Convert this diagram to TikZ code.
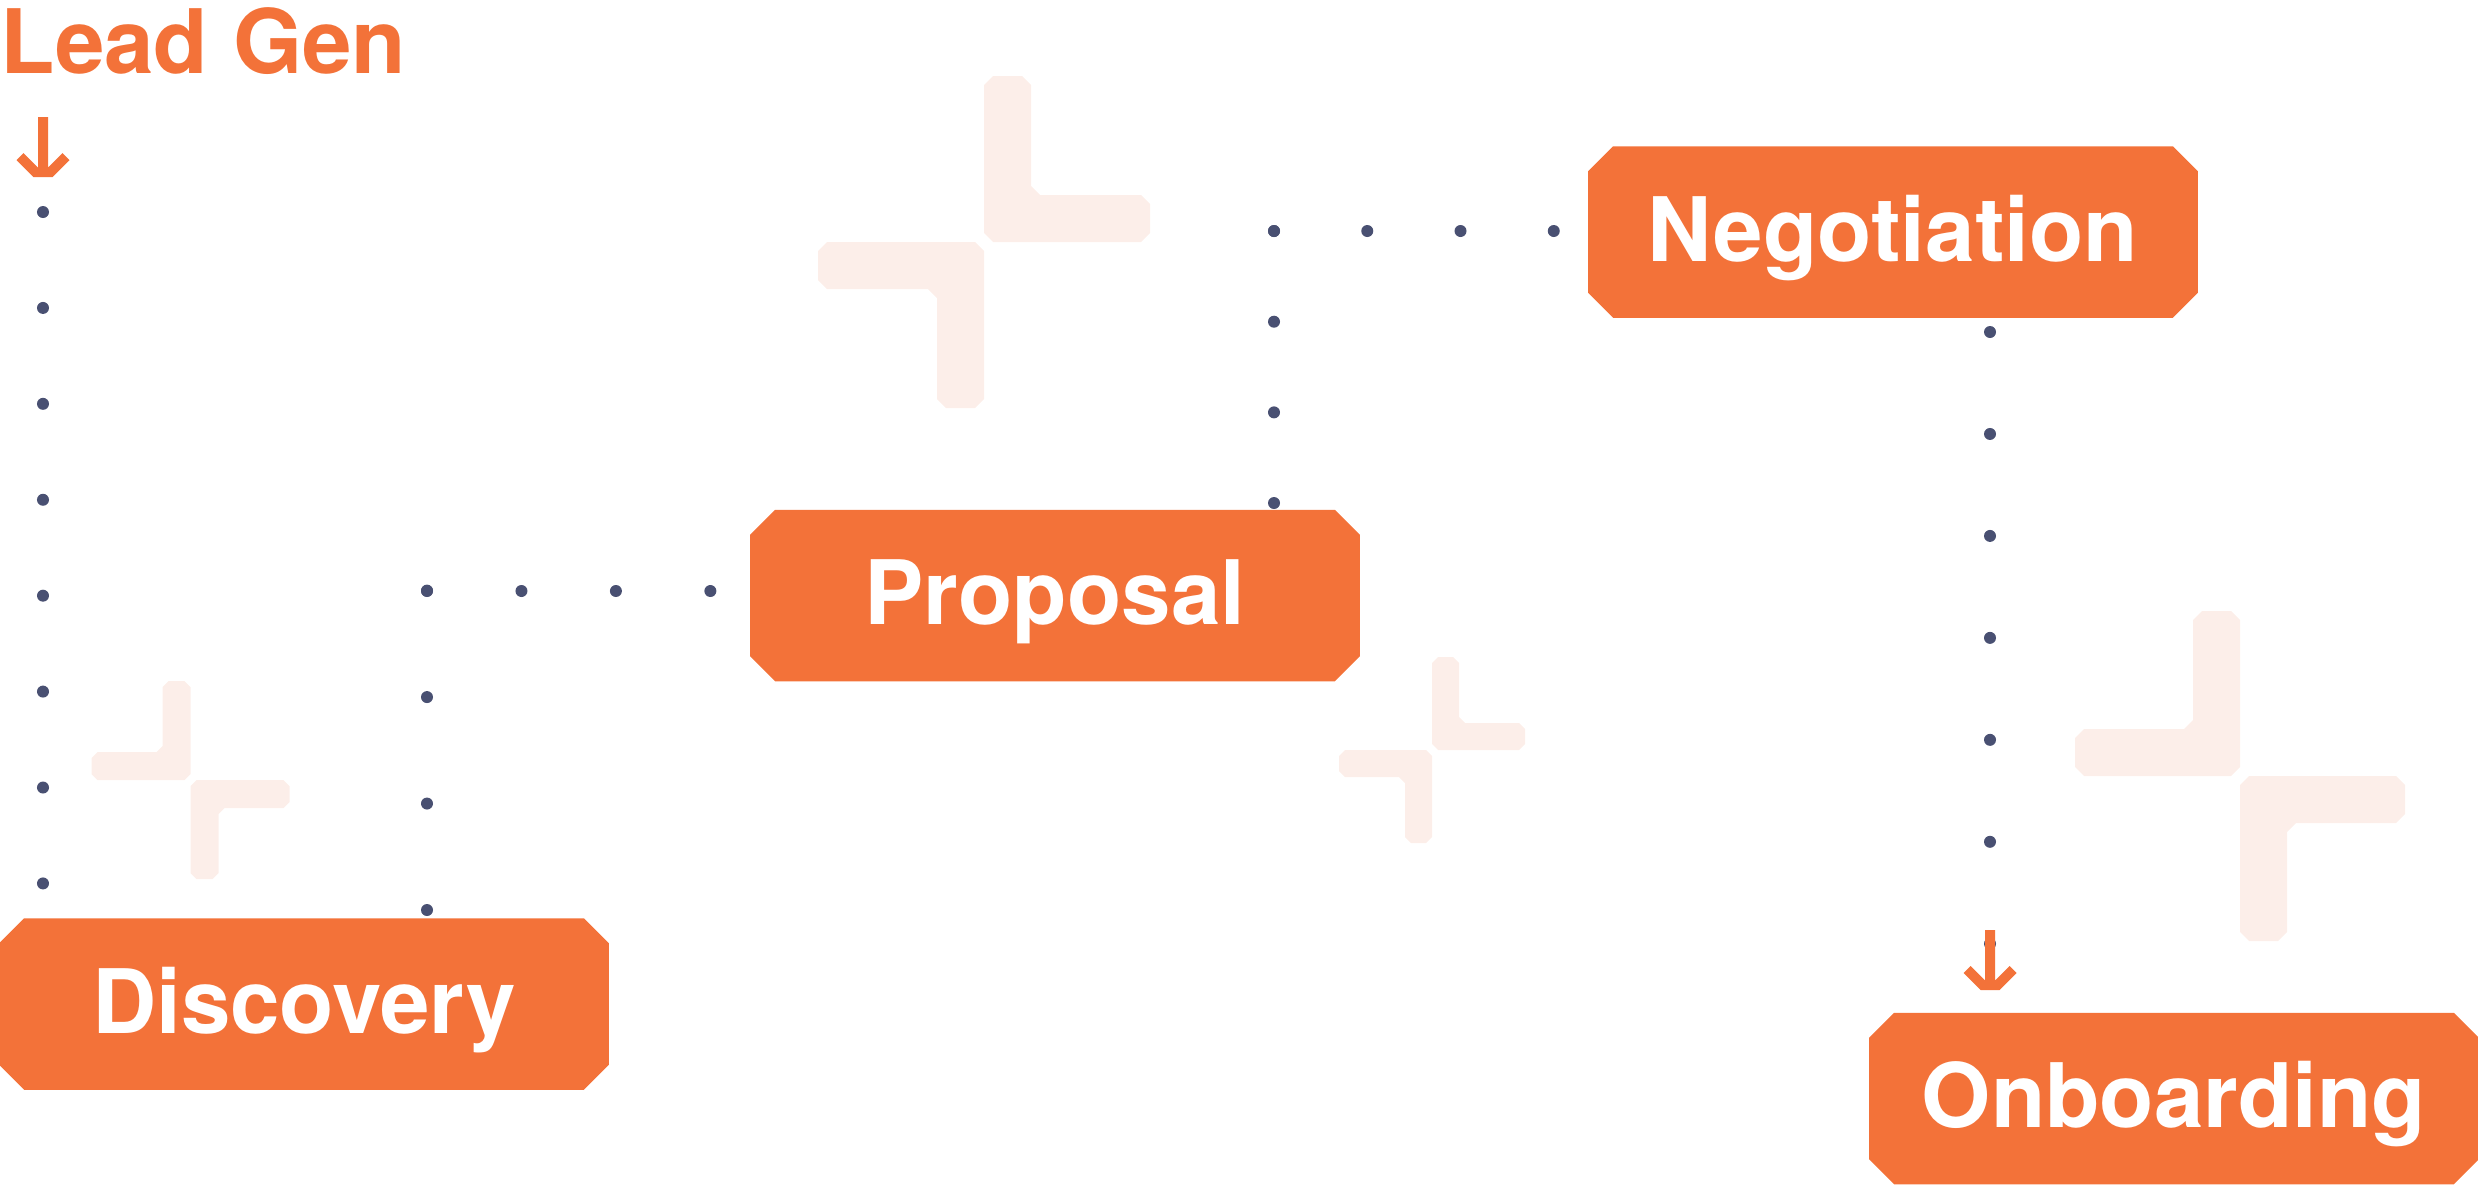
\documentclass[tikz,border=0pt]{standalone}
\usepackage{fontspec}
\setmainfont{TeX Gyre Heros}
\usetikzlibrary{backgrounds}
\definecolor{brandorange}{HTML}{F37239}
\definecolor{decopink}{HTML}{FCEEE9}
\definecolor{dotblue}{HTML}{495072}
\newcommand\octch{0.25cm}
\newcommand\octo[1]{%
  \fill[brandorange] ([xshift=\octch]#1.north west) -- ([xshift=-\octch]#1.north east)
    -- ([yshift=-\octch]#1.north east) -- ([yshift=\octch]#1.south east)
    -- ([xshift=-\octch]#1.south east) -- ([xshift=\octch]#1.south west)
    -- ([yshift=\octch]#1.south west) -- ([yshift=-\octch]#1.north west) -- cycle;}
% L-shaped decoration: corner x, y, xscale, yscale, size, thickness, chamfer
\newcommand\decoL[7]{%
  \fill[decopink, shift={(#1,#2)}, xscale=#3, yscale=#4]
    (#7,0) -- (#5-#7,0) -- (#5,#7) -- (#5,#6-#7) -- (#5-#7,#6) -- (#6+#7,#6)
    -- (#6,#6+#7) -- (#6,#5-#7) -- (#6-#7,#5) -- (#7,#5) -- (0,#5-#7) -- (0,#7) -- cycle;}
\newcommand\downhead[1]{%
  \fill[brandorange, shift={(#1)}] (-5,-60) -- (5,-60) -- (5,-9.5) -- (19.5,-24)
    -- (26.5,-17) -- (9.5,0) -- (-9.5,0) -- (-26.5,-17) -- (-19.5,-24) -- (-5,-9.5) -- cycle;}
\begin{document}
\begin{tikzpicture}[x=0.01cm, y=-0.01cm,
  stagebox/.style={rectangle, minimum width=6.08cm, minimum height=1.70cm, inner sep=0pt,
    text=white, font=\bfseries\fontsize{25.3pt}{30pt}\selectfont, text height=16.5pt, text depth=0pt},
  titletext/.style={anchor=base west, inner sep=0pt, text=brandorange,
    font=\bfseries\fontsize{25.3pt}{30pt}\selectfont},
  dotline/.style={line width=0.12cm, line cap=round, draw=dotblue, dash pattern=on 0pt off #1}]
\useasboundingbox (0,0) rectangle (2478,1184);

% decorations
\decoL{984}{242}{1}{-1}{166}{47}{9}
\decoL{984}{242}{-1}{1}{166}{47}{9}
\decoL{190.5}{780}{-1}{-1}{99}{28}{6}
\decoL{190.5}{780}{1}{1}{99}{28}{6}
\decoL{2240}{776}{-1}{-1}{165}{47}{9}
\decoL{2240}{776}{1}{1}{165}{47}{9}
\decoL{1432}{750}{1}{-1}{93}{27}{6}
\decoL{1432}{750}{-1}{1}{93}{27}{6}

% nodes
\node[titletext] (lead) at (0,73) {Lead Gen};
\node[stagebox] (disc) at (304,1004) {Discovery};
\node[stagebox] (prop) at (1055,595.5) {Proposal};
\node[stagebox] (nego) at (1893,232) {Negotiation};
\node[stagebox] (onb) at (2174,1098.5) {Onboarding};
\begin{pgfonlayer}{background}
  \octo{disc}\octo{prop}\octo{nego}\octo{onb}
\end{pgfonlayer}

% connector points
\coordinate (a1) at (43,212);   \coordinate (a2) at (43,884);
\coordinate (b1) at (427,910);  \coordinate (b2) at (427,591);  \coordinate (b3) at (711,591);
\coordinate (c1) at (1274,503); \coordinate (c2) at (1274,231); \coordinate (c3) at (1555,231);
\coordinate (d1) at (1990,332); \coordinate (d2) at (1990,944);
\coordinate (tipA) at (43,177);
\coordinate (tipD) at (1990,990);

% connectors
\draw[dotline=0.9586cm] (a1) -- (a2);
\draw[dotline=1.064cm] (b1) -- ([yshift=0.01cm]b2);
\draw[dotline=0.944cm] (b2) -- (b3);
\draw[dotline=0.906cm] (c1) -- ([yshift=0.01cm]c2);
\draw[dotline=0.932cm] (c2) -- (c3);
\draw[dotline=1.019cm] (d1) -- (d2);
\downhead{tipA}
\downhead{tipD}
\end{tikzpicture}
\end{document}
